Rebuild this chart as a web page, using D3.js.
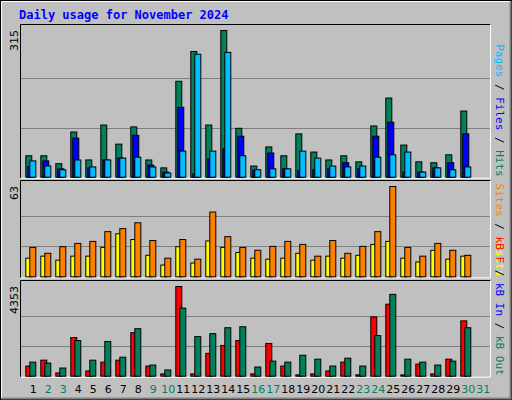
<!DOCTYPE html>
<html><head><meta charset="utf-8">
<script src="https://cdn.jsdelivr.net/npm/d3@7"></script>
<style>body{margin:0;background:#fff}</style></head><body>
<svg id="c" width="512" height="400"></svg>
<script>
const days = d3.range(1,32);
const weekend = [2,3,9,10,16,17,23,24,30,31];
const hits  = [46,46,29,97,37,112,71,108,37,20,206,270,112,315,105,24,65,46,93,54,37,46,33,110,170,69,33,31,48,142];
const files = [23,35,18,84,20,37,41,90,26,11,150,7,39,61,88,15,52,18,14,16,18,31,18,88,118,11,11,20,31,93];
const pages = [35,24,16,37,22,37,41,43,22,9,56,264,56,268,46,16,18,18,56,41,24,22,24,43,48,54,11,20,16,22];
const visits= [13,14.4,11.6,14.4,14.4,20.5,30,26,15,8.2,21,9.6,25,20.5,17,13,12.3,13,16.4,11.6,14.4,13,15,22.6,24.7,13,10.3,18.5,12.3,14.4];
const sites = [20.5,16.4,21,23.3,24.7,31.5,33.6,37.7,25.3,13,26,12.3,45.2,28,20.5,18.5,21.2,24.7,22.6,14.4,25.3,16.4,21.2,31.5,63,20.5,14.4,23.3,18.5,15];
const kbF   = [492,778,159,1875,254,683,778,2113,492,111,4353,111,1112,1493,1732,111,1589,492,64,111,254,683,64,2876,3495,64,588,111,826,2685];
const kbOut = [683,635,397,1732,778,1684,921,2304,540,302,3304,1922,2065,2351,2399,445,731,683,1017,826,492,874,492,1970,3972,826,683,540,731,2351];

const svg = d3.select("#c");
svg.append("rect").attr("x",0).attr("y",0).attr("width",512).attr("height",400).attr("fill","#c0c0c0");
svg.append("rect").attr("x",0.5).attr("y",0.5).attr("width",511).attr("height",399).attr("fill","none").attr("stroke","#000");
svg.append("path").attr("d","M1.5,398V1.5H510.5").attr("stroke","#fff").attr("fill","none");
svg.append("path").attr("d","M1.5,398.5H510.5V1.5").attr("stroke","#808080").attr("fill","none").attr("stroke-width",2);
svg.append("text").attr("x",19).attr("y",19).text("Daily usage for November 2024")
  .attr("font-family","DejaVu Sans Mono").attr("font-weight","bold").attr("font-size",12).attr("fill","#0000ff");

const x = d3.scaleBand().domain(days).range([25.3,490.3]).paddingInner(0);
function panel(top,bottom,max,series,maxLabel,legend){
  svg.append("rect").attr("x",20.5).attr("y",top-0.5).attr("width",470).attr("height",bottom-top+2).attr("fill","#c0c0c0");
  svg.append("path").attr("d",`M20.5,${bottom+1.5}V${top-0.5}H490.5`).attr("stroke","#000").attr("fill","none");
  svg.append("path").attr("d",`M20.5,${bottom+1.5}H490.5V${top-0.5}`).attr("stroke","#fff").attr("fill","none");
  const y = d3.scaleLinear().domain([0,max]).range([bottom,top+5]);
  const g = svg.append("g");
  const h = bottom-(top+5);
  [1/3,2/3].forEach(f=>g.append("line").attr("x1",21).attr("x2",490).attr("y1",Math.round(bottom-h*f*1.005)+0.5).attr("y2",Math.round(bottom-h*f*1.005)+0.5).attr("stroke","#808080").attr("stroke-width",1));
  series.forEach(s=>{
    g.selectAll(null).data(s.v).join("rect")
      .attr("x",(d,i)=>x(i+1)+s.off+0.5).attr("width",6)
      .attr("y",d=>y(d)+0.5).attr("height",d=>Math.max(0,bottom-y(d)))
      .attr("fill",s.c).attr("stroke","#000").attr("stroke-width",1);
  });
  svg.append("text").attr("transform",`translate(18,${top+5}) rotate(-90)`).attr("text-anchor","end")
    .attr("font-family","DejaVu Sans").attr("font-size",11).attr("fill","#000").text(maxLabel);
  const t = svg.append("text").attr("transform",`translate(504,${top+2}) rotate(90)`)
    .attr("font-family","DejaVu Sans Mono").attr("font-size",11);
  legend.forEach((l,i)=>{ if(i) t.append("tspan").attr("fill","#000").text(" / "); t.append("tspan").attr("fill",l[1]).text(l[0]); });
  // align legend to bottom
  const len = t.node().getComputedTextLength();
  t.attr("transform",`translate(496,${bottom-len}) rotate(90)`);
}
panel(25,176.7,315,[{v:hits,c:"#00805c",off:0},{v:files,c:"#0000ff",off:2},{v:pages,c:"#00bfff",off:4}],"315",
  [["Pages","#00bfff"],["Files","#0000ff"],["Hits","#00805c"]]);
panel(181,276.3,63,[{v:visits,c:"#ffff00",off:0},{v:sites,c:"#ff8000",off:4}],"63",
  [["Sites","#ff8000"],["Visits","#ffff00"]]);
panel(281,375.7,4353,[{v:kbF,c:"#ff0000",off:0},{v:kbOut,c:"#00805c",off:4}],"4353",
  [["kB F","#ff0000"],["kB In","#0000ff"],["kB Out","#00805c"]]);

svg.selectAll(null).data(days).join("text")
  .attr("x",d=>x(d)+8).attr("y",393).attr("text-anchor","middle")
  .attr("font-family","DejaVu Sans").attr("font-size",11)
  .attr("fill",d=>weekend.includes(d)?"#00805c":"#000").text(d=>d);
</script></body></html>
